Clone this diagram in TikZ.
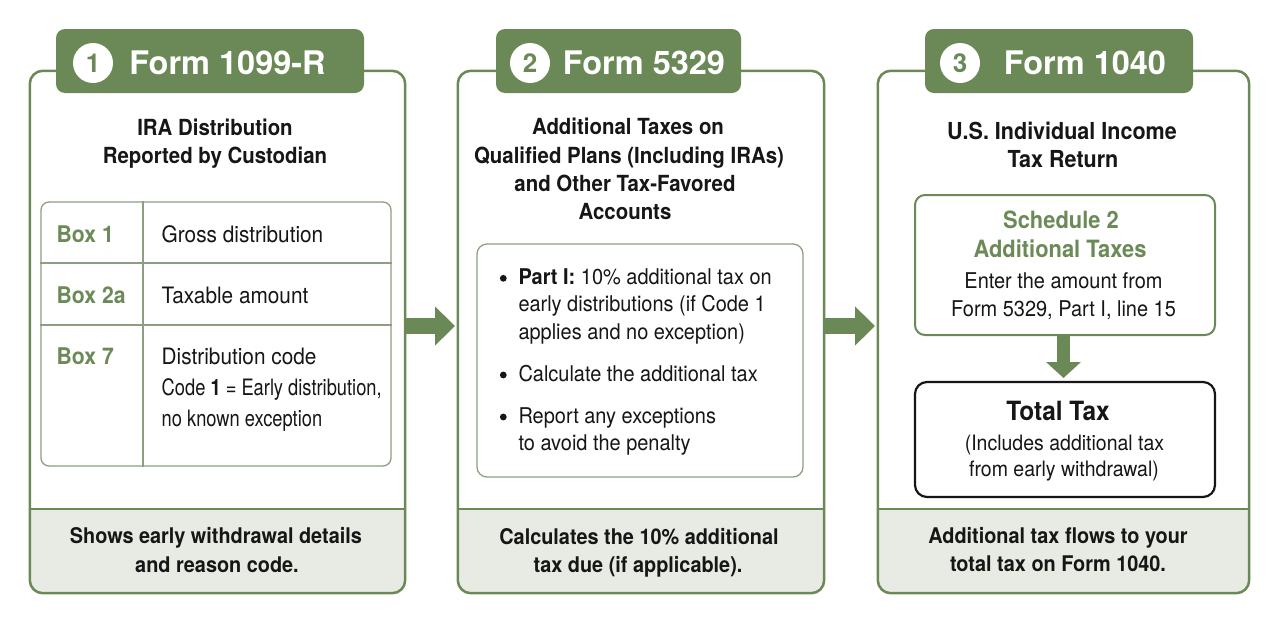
\documentclass[tikz,border=0pt]{standalone}
\usepackage{fontspec}
\setmainfont{TeX Gyre Heros}[FakeStretch=0.92]
\newfontfamily\titlefont{TeX Gyre Heros}
\usepackage{graphicx}
\usetikzlibrary{arrows.meta}
\definecolor{grn}{RGB}{106,137,86}
\definecolor{grntxt}{RGB}{108,138,88}
\definecolor{foot}{RGB}{232,235,227}
\definecolor{tline}{RGB}{142,158,130}
\definecolor{ink}{RGB}{22,22,22}
\newcommand\myfs[1]{\fontsize{#1}{#1}\selectfont}
\begin{document}
\begin{tikzpicture}[x=1pt,y=-1pt,
  panel/.style={rectangle, inner sep=0, fill=white, draw=none},
  border/.style={draw=grn, line width=2.5pt, rounded corners=13pt},
  footline/.style={draw=grn, line width=2pt},
  tab/.style={rectangle, rounded corners=9pt, fill=grn, inner sep=0, minimum height=64pt},
  num/.style={circle, fill=white, inner sep=0, minimum size=40pt, text=grn, font=\titlefont\bfseries\myfs{26}},
  ttl/.style={anchor=base, text=white, font=\titlefont\bfseries\myfs{32.5}, inner sep=0},
  sub/.style={anchor=base, inner sep=0, text=ink, font=\bfseries\myfs{22.2}},
  subb/.style={anchor=base, inner sep=0, text=ink, font=\bfseries\myfs{23.4}},
  lbl/.style={anchor=base west, inner sep=0, text=grntxt, font=\bfseries\myfs{23}},
  cell/.style={anchor=base west, inner sep=0, text=ink, font=\myfs{22.6}},
  bul/.style={anchor=base west, inner sep=0, text=ink, font=\myfs{21.7}},
  body/.style={anchor=base, inner sep=0, text=ink, font=\myfs{21.7}},
  gtitle/.style={anchor=base, inner sep=0, text=grntxt, font=\bfseries\myfs{23.8}},
  foottxt/.style={anchor=base, inner sep=0, text=ink, font=\bfseries\myfs{21.6}},
  thin/.style={draw=tline, line width=1.3pt},
  bigarrow/.style={draw=grn, line width=16pt, -{Triangle[length=20pt,width=38pt]}},
  downarrow/.style={draw=grn, line width=13pt, -{Triangle[length=16pt,width=34pt]}},
  dot/.style={fill=ink}
]
\useasboundingbox (0,0) rectangle (1280,624);
\fill[white] (0,0) rectangle (1280,624);

% ---------- panels ----------
\node[panel, minimum width=375pt, minimum height=522pt] (p1) at (217.5,332) {};
\node[panel, minimum width=366pt, minimum height=522pt] (p2) at (641,332) {};
\node[panel, minimum width=371pt, minimum height=522pt] (p3) at (1063.5,332) {};

\foreach \p in {p1,p2,p3}{
  \begin{scope}
    \clip (\p.west |- 0,509) rectangle (\p.south east);
    \fill[foot, rounded corners=13pt] (\p.north west) rectangle (\p.south east);
  \end{scope}
  \draw[footline] (\p.west |- 0,509) -- (\p.east |- 0,509);
  \draw[border] (\p.north west) rectangle (\p.south east);
}

% ---------- tabs ----------
\node[tab, minimum width=308pt] (t1) at (210,61) {};
\node[tab, minimum width=245pt] (t2) at (618.5,61) {};
\node[tab, minimum width=268pt] (t3) at (1059,61) {};
\node[num] (c1) at (93,63) {1};
\node[num] (c2) at (530,63) {2};
\node[num] (c3) at (960,63) {3};
\node[ttl] (n1) at (227.5,74) {Form 1099-R};
\node[ttl] (n2) at (644,74) {Form 5329};
\node[ttl] (n3) at (1085,74) {Form 1040};

% ---------- panel 1 ----------
\node[sub] (s1a) at (215,135) {IRA Distribution};
\node[sub] (s1b) at (215,163) {Reported by Custodian};

\node[thin, rounded corners=8pt, minimum width=350pt, minimum height=264pt, inner sep=0] (tb) at (216,334) {};
\draw[thin] (tb.west |- 0,263) -- (tb.east |- 0,263);
\draw[thin] (tb.west |- 0,325) -- (tb.east |- 0,325);
\draw[thin] (tb.north -| 143,0) -- (tb.south -| 143,0);

\node[lbl] (b1) at (56.5,242) {Box 1};
\node[lbl] (b2) at (56.5,303) {Box 2a};
\node[lbl] (b7) at (56.5,364) {Box 7};
\node[cell] (v1) at (161.5,242) {Gross distribution};
\node[cell] (v2) at (161.5,303) {Taxable amount};
\node[cell] (v7a) at (161.5,364) {Distribution code};
\node[cell] (v7b) at (161.5,395) {\scalebox{0.88}[1]{Code \textbf{1} = Early distribution,}};
\node[cell] (v7c) at (161.5,426) {\scalebox{0.88}[1]{no known exception}};

\node[foottxt] (f1a) at (216,543) {Shows early withdrawal details};
\node[foottxt] (f1b) at (217,572) {and reason code.};

% ---------- panel 2 ----------
\node[sub] (s2a) at (628,134) {Additional Taxes on};
\node[sub] (s2b) at (629,163) {Qualified Plans (Including IRAs)};
\node[sub] (s2c) at (625,191) {and Other Tax-Favored};
\node[sub] (s2d) at (625,219) {Accounts};

\node[thin, rounded corners=10pt, minimum width=326pt, minimum height=233pt, inner sep=0] (ib) at (640,360.5) {};
\fill[dot] (503.3,278.3) circle (3.4);
\fill[dot] (503.3,375) circle (3.4);
\fill[dot] (503.3,417) circle (3.4);
\node[bul] (u1a) at (518.3,284) {\textbf{Part I:} 10\% additional tax on};
\node[bul] (u1b) at (518.3,311.5) {early distributions (if Code 1};
\node[bul] (u1c) at (518.3,339) {applies and no exception)};
\node[bul] (u2) at (518.3,381) {Calculate the additional tax};
\node[bul] (u3a) at (518.3,423) {Report any exceptions};
\node[bul] (u3b) at (518.3,450) {to avoid the penalty};

\node[foottxt] (f2a) at (639,544) {Calculates the 10\% additional};
\node[foottxt] (f2b) at (638,572) {tax due (if applicable).};

% ---------- panel 3 ----------
\node[subb] (s3a) at (1062,139) {U.S. Individual Income};
\node[subb] (s3b) at (1063,167) {Tax Return};

\node[draw=grn, line width=2pt, rounded corners=10pt, minimum width=300pt, minimum height=140pt, inner sep=0] (sch) at (1065,265) {};
\node[gtitle] (g1) at (1061,228) {Schedule 2};
\node[gtitle] (g2) at (1060,257) {Additional Taxes};
\node[body] (e1) at (1063.5,288) {Enter the amount from};
\node[body] (e2) at (1063.5,316) {Form 5329, Part I, line 15};

\node[draw=ink, line width=2.2pt, rounded corners=12pt, minimum width=300pt, minimum height=115pt, inner sep=0] (tot) at (1065,439.5) {};
\node[anchor=base, inner sep=0, text=ink, font=\bfseries\myfs{26.5}] (tt) at (1058,420.5) {Total Tax};
\node[anchor=base, inner sep=0, text=ink, font=\myfs{21.2}] (ta) at (1064.5,450) {(Includes additional tax};
\node[anchor=base, inner sep=0, text=ink, font=\myfs{21.2}] (tb2) at (1064,476.5) {from early withdrawal)};

\coordinate (dtop) at (1063.5,336);
\coordinate (dtip) at (1063.5,378);
\draw[downarrow] (dtop) -- (dtip);

\node[foottxt] (f3a) at (1058,543) {Additional tax flows to your};
\node[foottxt] (f3b) at (1058,571.5) {total tax on Form 1040.};

% ---------- connectors ----------
\coordinate (tip1) at (455,326);
\coordinate (tip2) at (875,326);
\draw[bigarrow] (p1.east |- tip1) -- (tip1);
\draw[bigarrow] (p2.east |- tip2) -- (tip2);
\end{tikzpicture}
\end{document}
